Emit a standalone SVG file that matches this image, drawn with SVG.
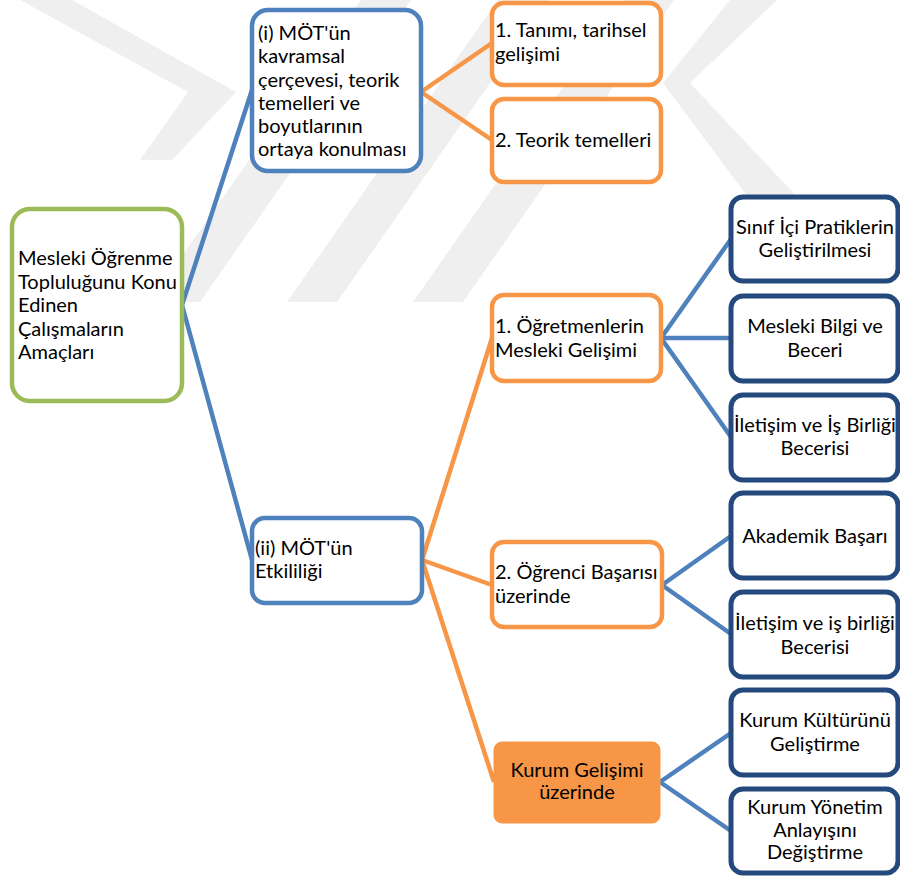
<svg xmlns="http://www.w3.org/2000/svg" width="900" height="877" viewBox="0 0 900 877">
  <style>
    .wm { fill: #efefef; }
    .box { fill: #ffffff; stroke-width: 4.5; }
    .green { stroke: #9bbb59; }
    .blue { stroke: #4f81bd; }
    .orange { stroke: #f79646; }
    .navy { stroke: #24497d; stroke-width: 5; }
    .filled { fill: #f79646; stroke: #f79646; stroke-width: 1; }
    .link { fill: none; stroke-width: 4.5; stroke-linejoin: round; }
    .lb { stroke: #4f81bd; }
    .lo { stroke: #f79646; }
    text { font-family: Lato, "Open Sans", "Liberation Sans", sans-serif; font-size: 20px; fill: #000000; }
    .c { text-anchor: middle; }
  </style>

  <rect width="900" height="877" fill="#ffffff"/>

  <!-- faint background emblem -->
  <g id="watermark">
    <polygon class="wm" points="20,0 72,0 236,92 172,160 140,160 188,92"/>
    <polygon class="wm" points="150,302 200,302 411,0 361,0"/>
    <polygon class="wm" points="287,302 337,302 548,0 498,0"/>
    <polygon class="wm" points="413,302 463,302 674,0 624,0"/>
    <polygon class="wm" points="730,0 777,0 690,83 800,200 750,200 663,83"/>
  </g>

  <!-- connectors -->
  <g id="connectors">
    <polyline class="link lb" points="252,90 182,305 252,560"/>
    <polyline class="link lo" points="492,43 421,92 492,140"/>
    <polyline class="link lo" points="492,338 422,560 492,585"/>
    <line class="link lo" x1="422" y1="560" x2="494" y2="782"/>
    <polyline class="link lb" points="731,239 661,338 731,437"/>
    <line class="link lb" x1="661" y1="338" x2="731" y2="338"/>
    <polyline class="link lb" points="731,536 662,585 731,634"/>
    <polyline class="link lb" points="731,733 660,782 731,831"/>
  </g>

  <g id="root">
    <rect class="box green" x="12" y="209" width="170" height="192" rx="18"/>
    <text x="18" y="265">Mesleki Öğrenme</text>
    <text x="18" y="289">Topluluğunu Konu</text>
    <text x="18" y="312">Edinen</text>
    <text x="18" y="336">Çalışmaların</text>
    <text x="18" y="359">Amaçları</text>
  </g>

  <g id="aim-1">
    <rect class="box blue" x="252" y="10" width="169" height="161" rx="16"/>
    <text x="258" y="40">(i) MÖT'ün</text>
    <text x="258" y="63">kavramsal</text>
    <text x="258" y="87">çerçevesi, teorik</text>
    <text x="258" y="110">temelleri ve</text>
    <text x="258" y="133">boyutlarının</text>
    <text x="258" y="156">ortaya konulması</text>
  </g>

  <g id="aim-2">
    <rect class="box blue" x="252" y="518" width="170" height="85" rx="13"/>
    <text x="255" y="555">(ii) MÖT'ün</text>
    <text x="255" y="578">Etkililiği</text>
  </g>

  <g id="definition">
    <rect class="box orange" x="492" y="3" width="169" height="82" rx="12"/>
    <text x="495" y="37">1. Tanımı, tarihsel</text>
    <text x="495" y="61">gelişimi</text>
  </g>

  <g id="theory">
    <rect class="box orange" x="492" y="99" width="169" height="83" rx="12"/>
    <text x="495" y="147">2. Teorik temelleri</text>
  </g>

  <g id="teacher-development">
    <rect class="box orange" x="492" y="295" width="169" height="86" rx="12"/>
    <text x="495" y="333">1. Öğretmenlerin</text>
    <text x="495" y="357">Mesleki Gelişimi</text>
  </g>

  <g id="student-achievement">
    <rect class="box orange" x="492" y="542" width="170" height="85" rx="12"/>
    <text x="495" y="579">2. Öğrenci Başarısı</text>
    <text x="495" y="603">üzerinde</text>
  </g>

  <g id="school-development">
    <rect class="filled" x="494" y="742" width="166" height="81" rx="8"/>
    <text class="c" x="577" y="777">Kurum Gelişimi</text>
    <text class="c" x="577" y="799">üzerinde</text>
  </g>

  <g id="classroom-practice">
    <rect class="box navy" x="731" y="197" width="167" height="84" rx="12"/>
    <text class="c" x="815" y="234">Sınıf İçi Pratiklerin</text>
    <text class="c" x="815" y="257">Geliştirilmesi</text>
  </g>

  <g id="professional-knowledge">
    <rect class="box navy" x="731" y="296" width="167" height="85" rx="12"/>
    <text class="c" x="815" y="333">Mesleki Bilgi ve</text>
    <text class="c" x="815" y="357">Beceri</text>
  </g>

  <g id="collaboration-teachers">
    <rect class="box navy" x="731" y="395" width="167" height="85" rx="12"/>
    <text class="c" x="815" y="432">İletişim ve İş Birliği</text>
    <text class="c" x="815" y="455">Becerisi</text>
  </g>

  <g id="academic-achievement">
    <rect class="box navy" x="731" y="493" width="167" height="85" rx="12"/>
    <text class="c" x="815" y="543">Akademik Başarı</text>
  </g>

  <g id="collaboration-students">
    <rect class="box navy" x="731" y="592" width="167" height="85" rx="12"/>
    <text class="c" x="815" y="630">İletişim ve iş birliği</text>
    <text class="c" x="815" y="654">Becerisi</text>
  </g>

  <g id="school-culture">
    <rect class="box navy" x="731" y="690" width="167" height="85" rx="12"/>
    <text class="c" x="815" y="727">Kurum Kültürünü</text>
    <text class="c" x="815" y="751">Geliştirme</text>
  </g>

  <g id="school-management">
    <rect class="box navy" x="731" y="789" width="167" height="84" rx="12"/>
    <text class="c" x="815" y="814">Kurum Yönetim</text>
    <text class="c" x="815" y="837">Anlayışını</text>
    <text class="c" x="815" y="859">Değiştirme</text>
  </g>
</svg>
